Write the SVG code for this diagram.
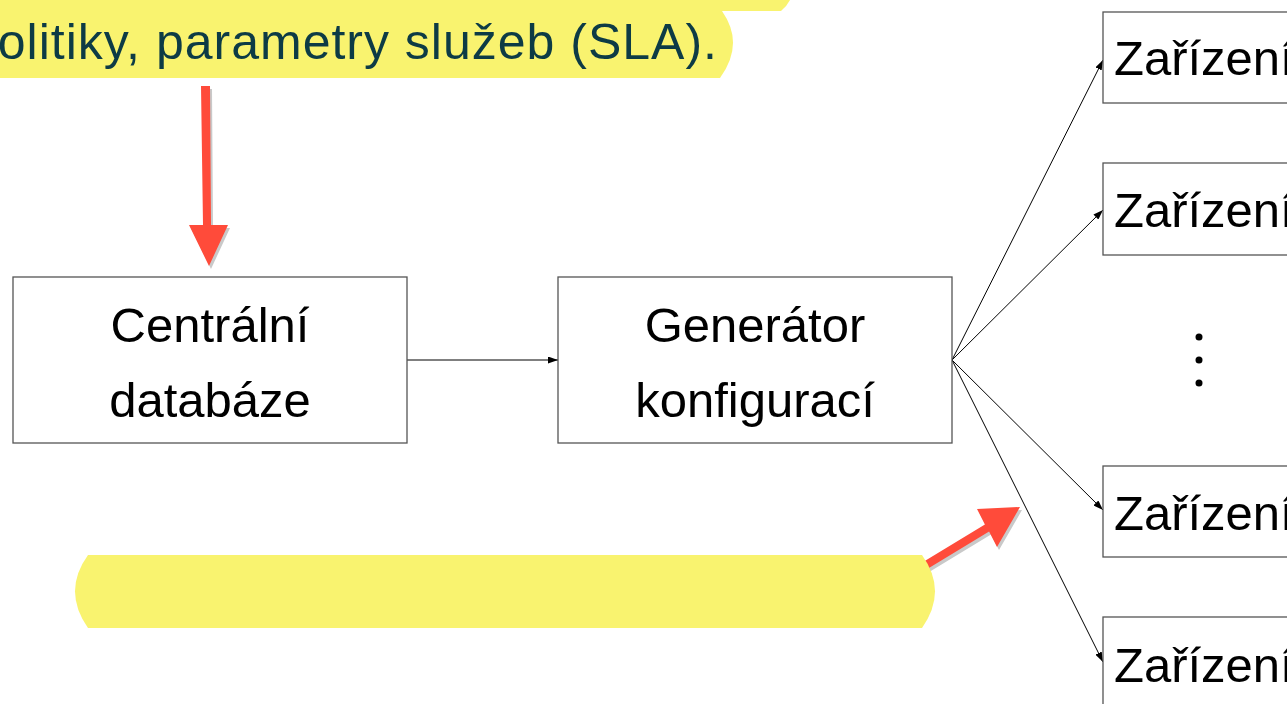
<svg xmlns="http://www.w3.org/2000/svg" width="1287" height="704" viewBox="0 0 1287 704">
  <style>
    .box { fill: #ffffff; stroke: #555555; stroke-width: 1.3; }
    .lbl { font-family: "Liberation Sans", Arial, sans-serif; font-size: 49px; fill: #000000; }
    .mid { text-anchor: middle; }
    .edge { fill: none; stroke: #000000; stroke-width: 1; }
    .hl { fill: #f9f36f; }
    .note { font-family: "Liberation Sans", Arial, sans-serif; font-size: 50px; fill: #0d3b45; letter-spacing: 1px; }
    .red { fill: #ff4b3a; }
    .shadow { fill: #c9c9c9; }
  </style>
  <defs>
    <marker id="tip" markerWidth="10" markerHeight="7" refX="10" refY="3.5" orient="auto" markerUnits="userSpaceOnUse">
      <path d="M0,0 L10,3.5 L0,7 Z" fill="#000000"/>
    </marker>
  </defs>

  <rect width="1287" height="704" fill="#ffffff"/>

  <!-- highlighted note at the top -->
  <g id="note-top">
    <path class="hl" d="M -10 -5 L 790 -5 L 790 0 Q 787 6 781 11 L -10 11 Z"/>
    <path class="hl" d="M -10 11 L 722 11 Q 745 44 720 78 L -10 78 Z"/>
    <text class="note" x="718" y="59" text-anchor="end">politiky, parametry služeb (SLA).</text>
  </g>

  <!-- red pointer from the note down to the database -->
  <g id="pointer-down">
    <path class="shadow" d="M 203 89 L 212 89 L 213 228 L 230 228 L 211 269 L 191 228 L 205 228 Z"/>
    <path class="red" d="M 201 86 L 210 86 L 211 225 L 228 225 L 209 266 L 189 225 L 203 225 Z"/>
  </g>

  <!-- red pointer toward the fan-out -->
  <g id="pointer-up">
    <path class="shadow" d="M 926 564.6 L 987 527.6 L 979 512 L 1022 510 L 999 550 L 991 534.4 L 930 571.4 Z"/>
    <path class="red" d="M 923.9 561.6 L 984.9 524.6 L 977 509 L 1020 507 L 997 547 L 989.1 531.4 L 928.1 568.4 Z"/>
  </g>

  <!-- empty highlighted note at the bottom -->
  <g id="note-bottom">
    <path class="hl" d="M 88 555 L 922 555 Q 948 591 922 628 L 88 628 Q 62 591 88 555 Z"/>
  </g>

  <g id="connectors">
    <line class="edge" x1="407" y1="360" x2="558" y2="360" marker-end="url(#tip)"/>
    <line class="edge" x1="952" y1="360" x2="1103" y2="60" marker-end="url(#tip)"/>
    <line class="edge" x1="952" y1="360" x2="1103" y2="210" marker-end="url(#tip)"/>
    <line class="edge" x1="952" y1="360" x2="1103" y2="510" marker-end="url(#tip)"/>
    <line class="edge" x1="952" y1="360" x2="1103" y2="662" marker-end="url(#tip)"/>
  </g>

  <g id="central-db">
    <rect class="box" x="13" y="277" width="394" height="166"/>
    <text class="lbl mid" x="210" y="342">Centrální</text>
    <text class="lbl mid" x="210" y="417">databáze</text>
  </g>

  <g id="generator">
    <rect class="box" x="558" y="277" width="394" height="166"/>
    <text class="lbl mid" x="755" y="342">Generátor</text>
    <text class="lbl mid" x="755" y="417">konfigurací</text>
  </g>

  <g id="device-1">
    <rect class="box" x="1103" y="12" width="200" height="91"/>
    <text class="lbl" x="1114" y="75">Zařízení</text>
  </g>

  <g id="device-2">
    <rect class="box" x="1103" y="163" width="200" height="92"/>
    <text class="lbl" x="1114" y="227">Zařízení</text>
  </g>

  <g id="ellipsis">
    <circle cx="1199" cy="337" r="3.5" fill="#000000"/>
    <circle cx="1199" cy="360" r="3.5" fill="#000000"/>
    <circle cx="1199" cy="383" r="3.5" fill="#000000"/>
  </g>

  <g id="device-3">
    <rect class="box" x="1103" y="466" width="200" height="91"/>
    <text class="lbl" x="1114" y="530">Zařízení</text>
  </g>

  <g id="device-4">
    <rect class="box" x="1103" y="617" width="200" height="100"/>
    <text class="lbl" x="1114" y="682">Zařízení</text>
  </g>
</svg>
